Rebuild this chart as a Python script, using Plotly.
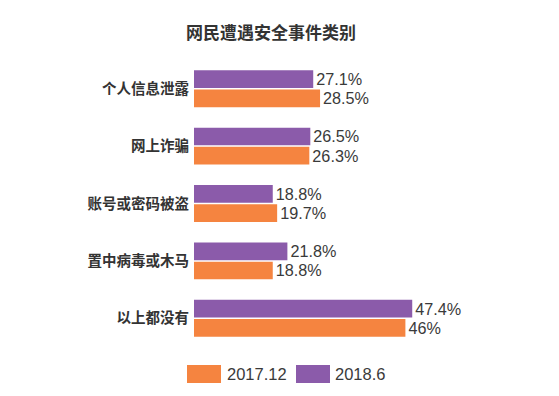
import plotly.graph_objects as go

categories = ["个人信息泄露", "网上诈骗", "账号或密码被盗", "置中病毒或木马", "以上都没有"]
vals_2017 = [28.5, 26.3, 19.7, 18.8, 46]
vals_2018 = [27.1, 26.5, 18.8, 21.8, 47.4]
series_names = ["2017.12", "2018.6"]
title_text = "网民遭遇安全事件类别"

ORANGE = "#F58440"
PURPLE = "#8B5BAA"
TXT = "#3a3a3a"

W, H = 559, 396
ML, MR, MT, MB = 194, 19, 60, 49

fig = go.Figure()
fig.add_trace(go.Bar(
    y=categories, x=vals_2018, orientation="h", name=series_names[1],
    marker=dict(color=PURPLE, line=dict(width=0)),
    text=[f"{v:g}%" for v in vals_2018], textposition="outside",
    textfont=dict(family="Liberation Sans, Arial", size=16.5, color=TXT),
    cliponaxis=False, hoverinfo="skip",
))
fig.add_trace(go.Bar(
    y=categories, x=vals_2017, orientation="h", name=series_names[0],
    marker=dict(color=ORANGE, line=dict(width=0)),
    text=[f"{v:g}%" for v in vals_2017], textposition="outside",
    textfont=dict(family="Liberation Sans, Arial", size=16.5, color=TXT),
    cliponaxis=False, hoverinfo="skip",
))

fig.update_layout(
    width=W, height=H,
    margin=dict(l=ML, r=MR, t=MT, b=MB, pad=0),
    paper_bgcolor="white", plot_bgcolor="white",
    barmode="group", bargap=0.33, bargroupgap=0.08,
    showlegend=False,
    title=dict(text=title_text, xref="container", yref="container",
               x=271 / W, y=1 - 33 / H, xanchor="center", yanchor="middle",
               font=dict(family="Noto Sans CJK SC", size=17, color="#333333", weight="bold")),
    xaxis=dict(range=[2.65, 73.6], visible=False, showgrid=False, zeroline=False),
    yaxis=dict(autorange="reversed", showgrid=False, zeroline=False, showline=False,
               ticks="", ticklabelstandoff=4,
               tickfont=dict(family="Noto Sans CJK SC", size=14.5, color="#333333", weight="bold")),
)

# custom legend (large swatches as in the reference)
plot_w = W - ML - MR
plot_h = H - MT - MB
def px_x(p):
    return (p - ML) / plot_w
def px_y(p):
    return (H - MB - p) / plot_h

legend_items = [(series_names[0], ORANGE, 187, 225), (series_names[1], PURPLE, 296, 333)]
for name, col, x0, tx in legend_items:
    fig.add_shape(type="rect", xref="paper", yref="paper",
                  x0=px_x(x0), x1=px_x(x0 + 34), y0=px_y(383), y1=px_y(365),
                  fillcolor=col, line=dict(width=0))
    fig.add_annotation(text=name, xref="paper", yref="paper", x=px_x(tx), y=px_y(374),
                       xanchor="left", yanchor="middle", showarrow=False,
                       font=dict(family="Liberation Sans, Arial", size=16.5, color=TXT))

fig.write_html("out.html", config={"displayModeBar": False},
               post_script="document.body.style.margin='0';document.body.style.padding='0';")
